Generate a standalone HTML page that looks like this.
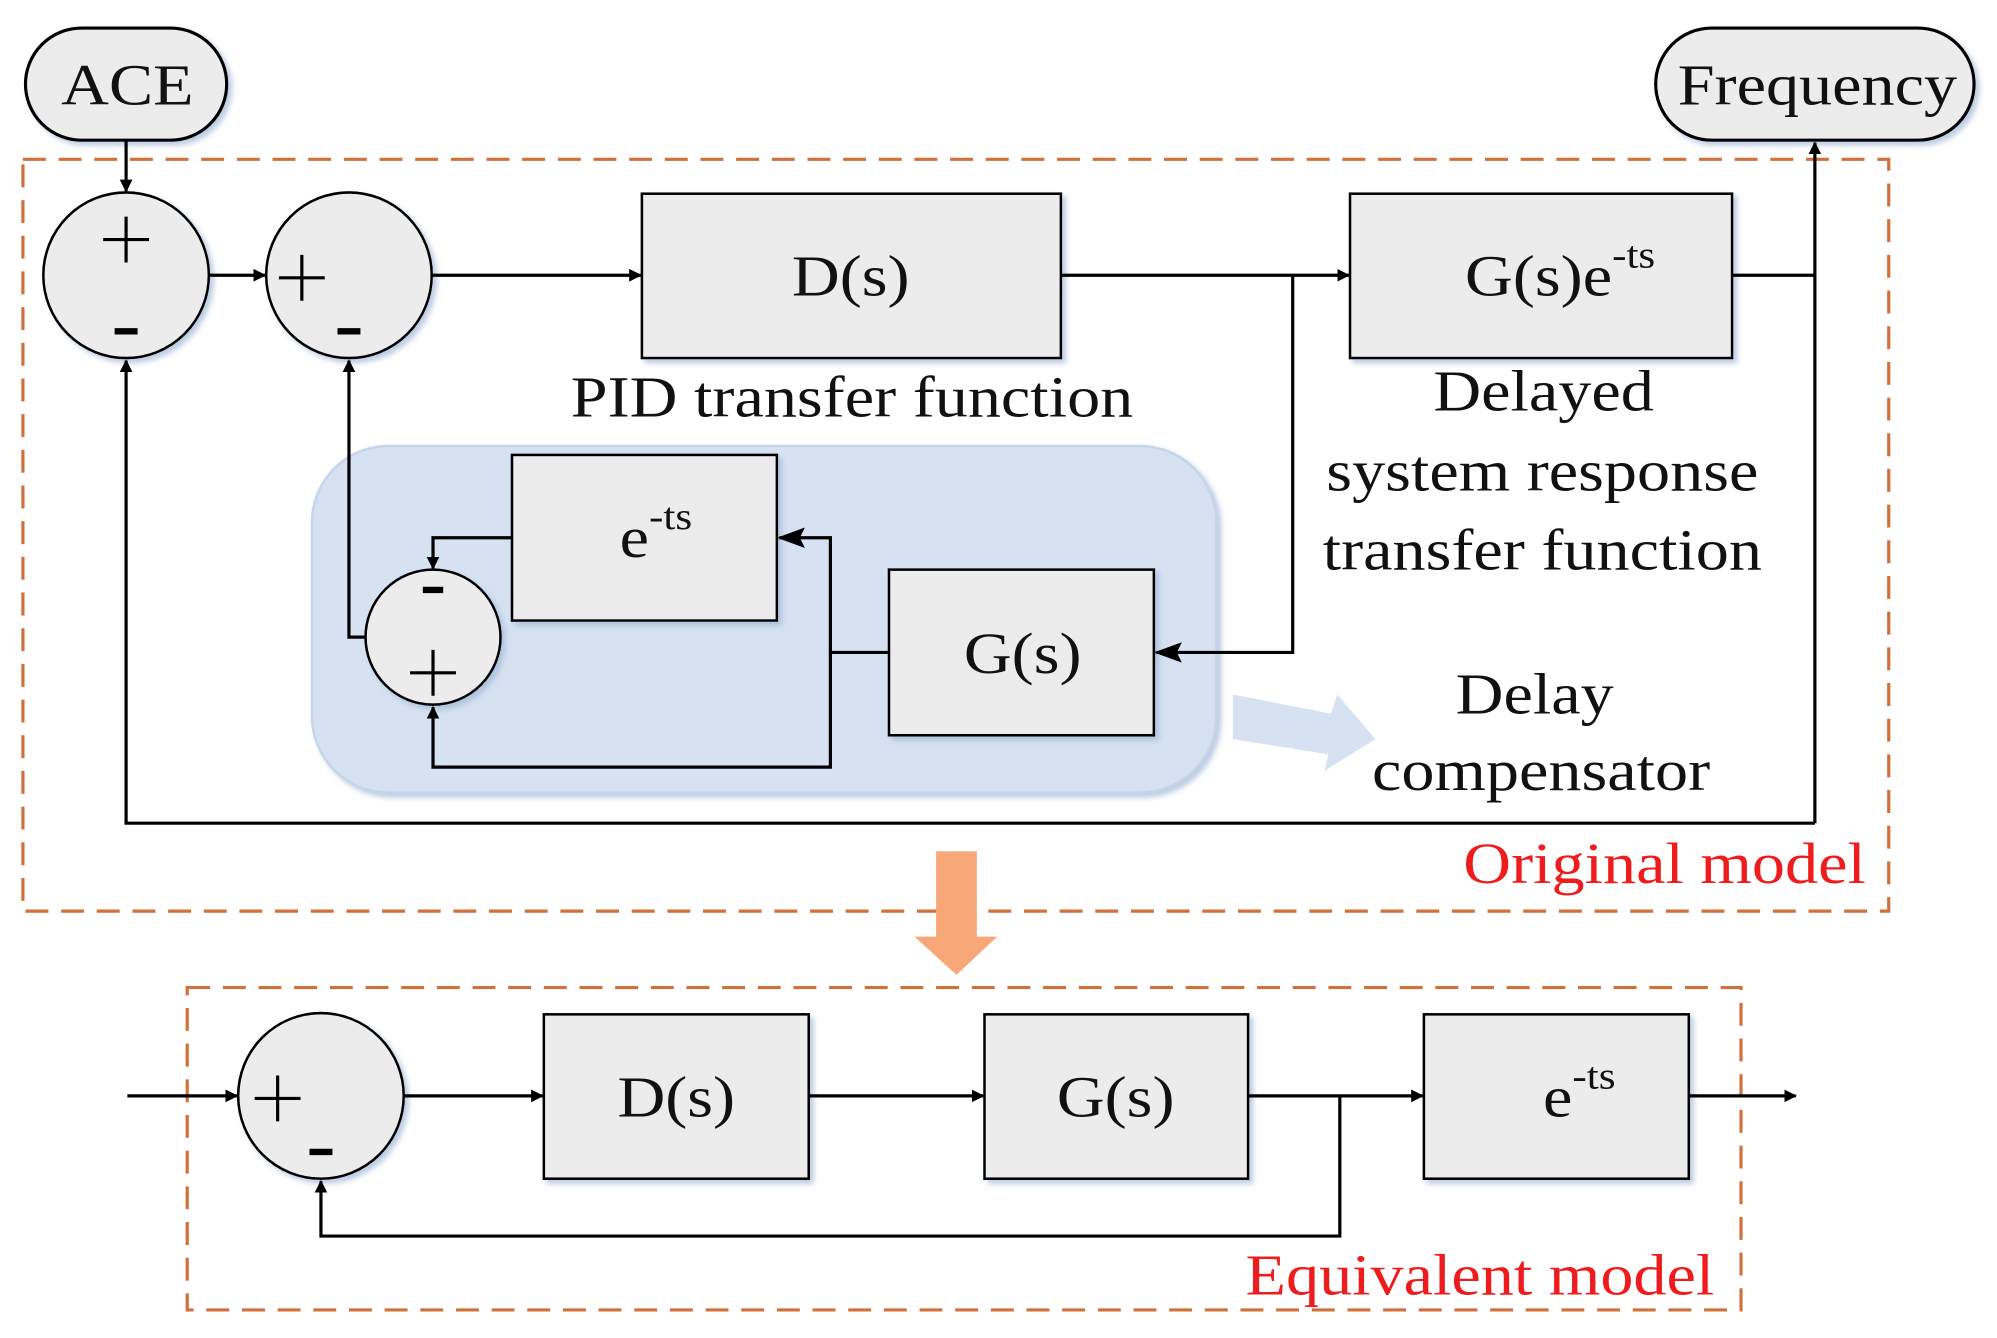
<!DOCTYPE html>
<html><head><meta charset="utf-8"><style>
html,body{margin:0;padding:0;background:#fff;}
svg{display:block;}
text{font-family:"Liberation Serif",serif;fill:#111;}
</style></head><body>
<svg width="1997" height="1338" viewBox="0 0 1568 1050" preserveAspectRatio="none" xmlns="http://www.w3.org/2000/svg">
<defs>
<marker id="ar" markerWidth="10" markerHeight="10" refX="9" refY="5" orient="auto" markerUnits="userSpaceOnUse">
<path d="M0,0 L10,5 L0,10 Z" fill="#000"/></marker>
<marker id="ab" markerWidth="22" markerHeight="16" refX="20" refY="8" orient="auto" markerUnits="userSpaceOnUse">
<path d="M0,0 L22,8 L0,16 L4,8 Z" fill="#000"/></marker>
<filter id="sh" x="-10%" y="-10%" width="130%" height="130%"><feDropShadow dx="3" dy="3" stdDeviation="2" flood-color="#9fb6d6" flood-opacity="0.7"/></filter>
</defs>
<g stroke="#000" stroke-width="2.5" fill="#ececec">
<rect x="20" y="22" width="158" height="88" rx="44" filter="url(#sh)"/>
<rect x="1300" y="22" width="250" height="88" rx="44" filter="url(#sh)"/>
</g>
<rect x="18" y="125" width="1465" height="590" fill="none" stroke="#d0703a" stroke-width="2.5" stroke-dasharray="18 10"/>
<rect x="147" y="775" width="1220" height="253" fill="none" stroke="#d0703a" stroke-width="2.5" stroke-dasharray="18 10"/>
<rect x="245" y="350" width="710" height="272" rx="60" fill="#d6e2f2" stroke="#c5d5ea" stroke-width="2" filter="url(#sh)"/>
<path d="M968,545 L1045,560 L1050,545 L1080,580 L1040,605 L1043,592 L968,580 Z" fill="#d6e2f2"/>
<path d="M735,668 L767,668 L767,735 L783,735 L751,765 L718,735 L735,735 Z" fill="#f8a878"/>
<g stroke="#000" stroke-width="2" fill="#ececec">
<circle cx="99" cy="216" r="65" filter="url(#sh)"/>
<circle cx="274" cy="216" r="65" filter="url(#sh)"/>
<rect x="504" y="152" width="329" height="129" filter="url(#sh)"/>
<rect x="1060" y="152" width="300" height="129" filter="url(#sh)"/>
<rect x="402" y="357" width="208" height="130" filter="url(#sh)"/>
<rect x="698" y="447" width="208" height="130" filter="url(#sh)"/>
<circle cx="340" cy="500" r="53" filter="url(#sh)"/>
<circle cx="252" cy="860" r="65" filter="url(#sh)"/>
<rect x="427" y="796" width="208" height="129" filter="url(#sh)"/>
<rect x="773" y="796" width="207" height="129" filter="url(#sh)"/>
<rect x="1118" y="796" width="208" height="129" filter="url(#sh)"/>
</g>
<g stroke="#000" stroke-width="2.5" fill="none">
<line x1="99" y1="110" x2="99" y2="150" marker-end="url(#ar)"/>
<line x1="164" y1="216" x2="208" y2="216" marker-end="url(#ar)"/>
<line x1="339" y1="216" x2="503" y2="216" marker-end="url(#ar)"/>
<line x1="833" y1="216" x2="1059" y2="216" marker-end="url(#ar)"/>
<polyline points="1015,216 1015,512 908,512" marker-end="url(#ab)"/>
<polyline points="1360,216 1425,216"/>
<line x1="1425" y1="646" x2="1425" y2="112" marker-end="url(#ar)"/>
<polyline points="1425,646 99,646 99,283" marker-end="url(#ar)"/>
<polyline points="287,500 274,500 274,283" marker-end="url(#ar)"/>
<polyline points="402,422 340,422 340,446" marker-end="url(#ar)"/>
<polyline points="698,512 652,512 652,422 612,422" marker-end="url(#ab)"/>
<polyline points="652,512 652,602 340,602 340,555" marker-end="url(#ar)"/>
<line x1="100" y1="860" x2="186" y2="860" marker-end="url(#ar)"/>
<line x1="317" y1="860" x2="426" y2="860" marker-end="url(#ar)"/>
<line x1="635" y1="860" x2="772" y2="860" marker-end="url(#ar)"/>
<line x1="980" y1="860" x2="1117" y2="860" marker-end="url(#ar)"/>
<polyline points="1052,860 1052,970 252,970 252,927" marker-end="url(#ar)"/>
<line x1="1326" y1="860" x2="1410" y2="860" marker-end="url(#ar)"/>
</g>
<g font-size="46" text-anchor="middle">
<text transform="matrix(1.13 0 0 1 100 82)">ACE</text>
<text transform="matrix(1.13 0 0 1 1427 82)">Frequency</text>
<text transform="matrix(1.13 0 0 1 668 232)">D(s)</text>
<text transform="matrix(1.13 0 0 1 669 327)">PID transfer function</text>
<text transform="matrix(1.13 0 0 1 1225 232)">G(s)e<tspan dy="-22" font-size="30">-ts</tspan></text>
<text transform="matrix(1.13 0 0 1 1212 322)">Delayed</text>
<text transform="matrix(1.13 0 0 1 1211 385)">system response</text>
<text transform="matrix(1.13 0 0 1 1211 447)">transfer function</text>
<text transform="matrix(1.13 0 0 1 515 437)">e<tspan dy="-22" font-size="30">-ts</tspan></text>
<text transform="matrix(1.13 0 0 1 803 528)">G(s)</text>
<text transform="matrix(1.13 0 0 1 1205 560)">Delay</text>
<text transform="matrix(1.13 0 0 1 1210 620)">compensator</text>
<text transform="matrix(1.13 0 0 1 1307 693)" style="fill:#ee1c1c">Original model</text>
<text transform="matrix(1.13 0 0 1 531 876)">D(s)</text>
<text transform="matrix(1.13 0 0 1 876 876)">G(s)</text>
<text transform="matrix(1.13 0 0 1 1240 876)">e<tspan dy="-22" font-size="30">-ts</tspan></text>
<text transform="matrix(1.13 0 0 1 1162 1016)" style="fill:#ee1c1c">Equivalent model</text>
</g>
<g stroke="#000" stroke-width="2.5">
<path d="M99,170 V206 M81,188 H117"/>
<path d="M237,200 V236 M219,218 H255"/>
<path d="M340,510 V546 M322,528 H358"/>
<path d="M218,844 V880 M200,862 H236"/>
</g>
<g stroke="#000" stroke-width="5">
<path d="M90,260 H108"/>
<path d="M265,260 H283"/>
<path d="M332,463 H348"/>
<path d="M243,904 H261"/>
</g>
</svg>
</body></html>
